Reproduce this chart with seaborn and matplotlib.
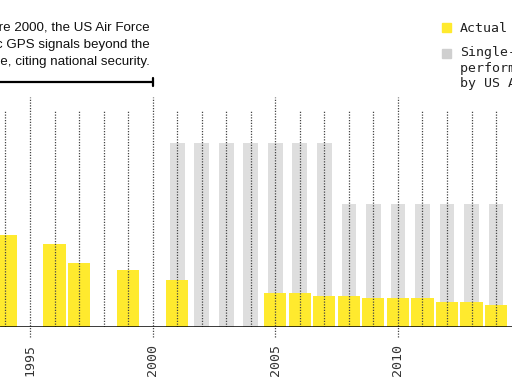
import matplotlib
matplotlib.use("Agg")
import matplotlib.pyplot as plt
import seaborn as sns
from matplotlib.patches import Rectangle

# GPS signal error (m): actual vs. single-frequency performance required by US Air Force
actual_years = [1994, 1996, 1997, 1999, 2001, 2005, 2006, 2007, 2008, 2009, 2010, 2011, 2012, 2013, 2014]
actual_error = [3.0, 2.7, 2.1, 1.85, 1.52, 1.12, 1.12, 1.01, 1.01, 0.95, 0.95, 0.95, 0.83, 0.83, 0.72]
required_years = [2001, 2002, 2003, 2004, 2005, 2006, 2007, 2008, 2009, 2010, 2011, 2012, 2013, 2014]
required_error = [6, 6, 6, 6, 6, 6, 6, 4, 4, 4, 4, 4, 4, 4]
grid_years = [1994, 1995, 1996, 1997, 1998, 1999, 2000, 2001, 2002, 2003, 2004,
              2005, 2006, 2007, 2008, 2009, 2010, 2011, 2012, 2013, 2014]
major_years = [1995, 2000, 2005, 2010]
note_lines = ["Before 2000, the US Air Force",
              "intentionally degraded public GPS signals beyond the",
              "required performance measure, citing national security."]

yellow = "#ffea2e"
gray = "#dedede"
mono = ["DejaVu Sans Mono"]
sans = ["Liberation Sans", "DejaVu Sans"]

sns.set_theme(style="white")
plt.rcParams["font.family"] = mono

fig = plt.figure(figsize=(5.12, 3.84), dpi=100)
ax = fig.add_axes([0, 57 / 384, 1, 230 / 384])

sns.barplot(x=required_years, y=required_error, native_scale=True, orient="v",
            width=0.6, color=gray, saturation=1, errorbar=None, linewidth=0, ax=ax, zorder=1)
sns.barplot(x=actual_years, y=actual_error, native_scale=True, orient="v",
            width=0.9, color=yellow, saturation=1, errorbar=None, linewidth=0, ax=ax, zorder=2)

# dotted year lines, the major ones run past the baseline
for yr in grid_years:
    if yr in major_years:
        ax.axvline(yr, ymin=-10 / 230, ymax=1, clip_on=False, color="#444444",
                   lw=0.9, ls=(0, (1, 1.2)), zorder=3)
    else:
        ax.axvline(yr, ymin=0, ymax=217 / 230, color="#444444",
                   lw=0.9, ls=(0, (1, 1.2)), zorder=3)
ax.axhline(0, color="black", lw=1.8, zorder=4)

ax.set_xlim(1993.777, 2014.65)
ax.set_ylim(0, 7.5)
ax.set_xticks(major_years)
ax.set_xticklabels([str(y) for y in major_years], rotation=90, fontsize=9.5, color="#333333")
ax.set_yticks([])
ax.tick_params(axis="x", length=0, pad=12)
ax.set_xlabel("")
ax.set_ylabel("")
for s in ax.spines.values():
    s.set_visible(False)

# annotation about selective availability
ax.plot([1985, 2000], [8.0, 8.0], color="black", lw=1.6, clip_on=False, zorder=5)
ax.plot([2000, 2000], [7.86, 8.13], color="black", lw=1.6, clip_on=False, zorder=5)
for i, line in enumerate(note_lines):
    fig.text(150 / 512, 1 - (28 + 17 * i) / 384, line, ha="right", va="center",
             fontsize=9.6, family=sans, color="#111111")

# legend
fig.patches.append(Rectangle((442 / 512, 1 - 32 / 384), 9 / 512, 9 / 384,
                             transform=fig.transFigure, color=yellow))
fig.patches.append(Rectangle((442 / 512, 1 - 58 / 384), 9 / 512, 9 / 384,
                             transform=fig.transFigure, color="#cfcfcf"))
fig.text(460 / 512, 1 - 28 / 384, "Actual", ha="left", va="center",
         fontsize=9.5, color="#222222")
fig.text(460 / 512, 1 - 46 / 384, "Single-frequency\nperformance required\nby US Air Force",
         ha="left", va="top", fontsize=9.5, color="#222222", linespacing=1.27)

fig.savefig("out.png", dpi=100)
